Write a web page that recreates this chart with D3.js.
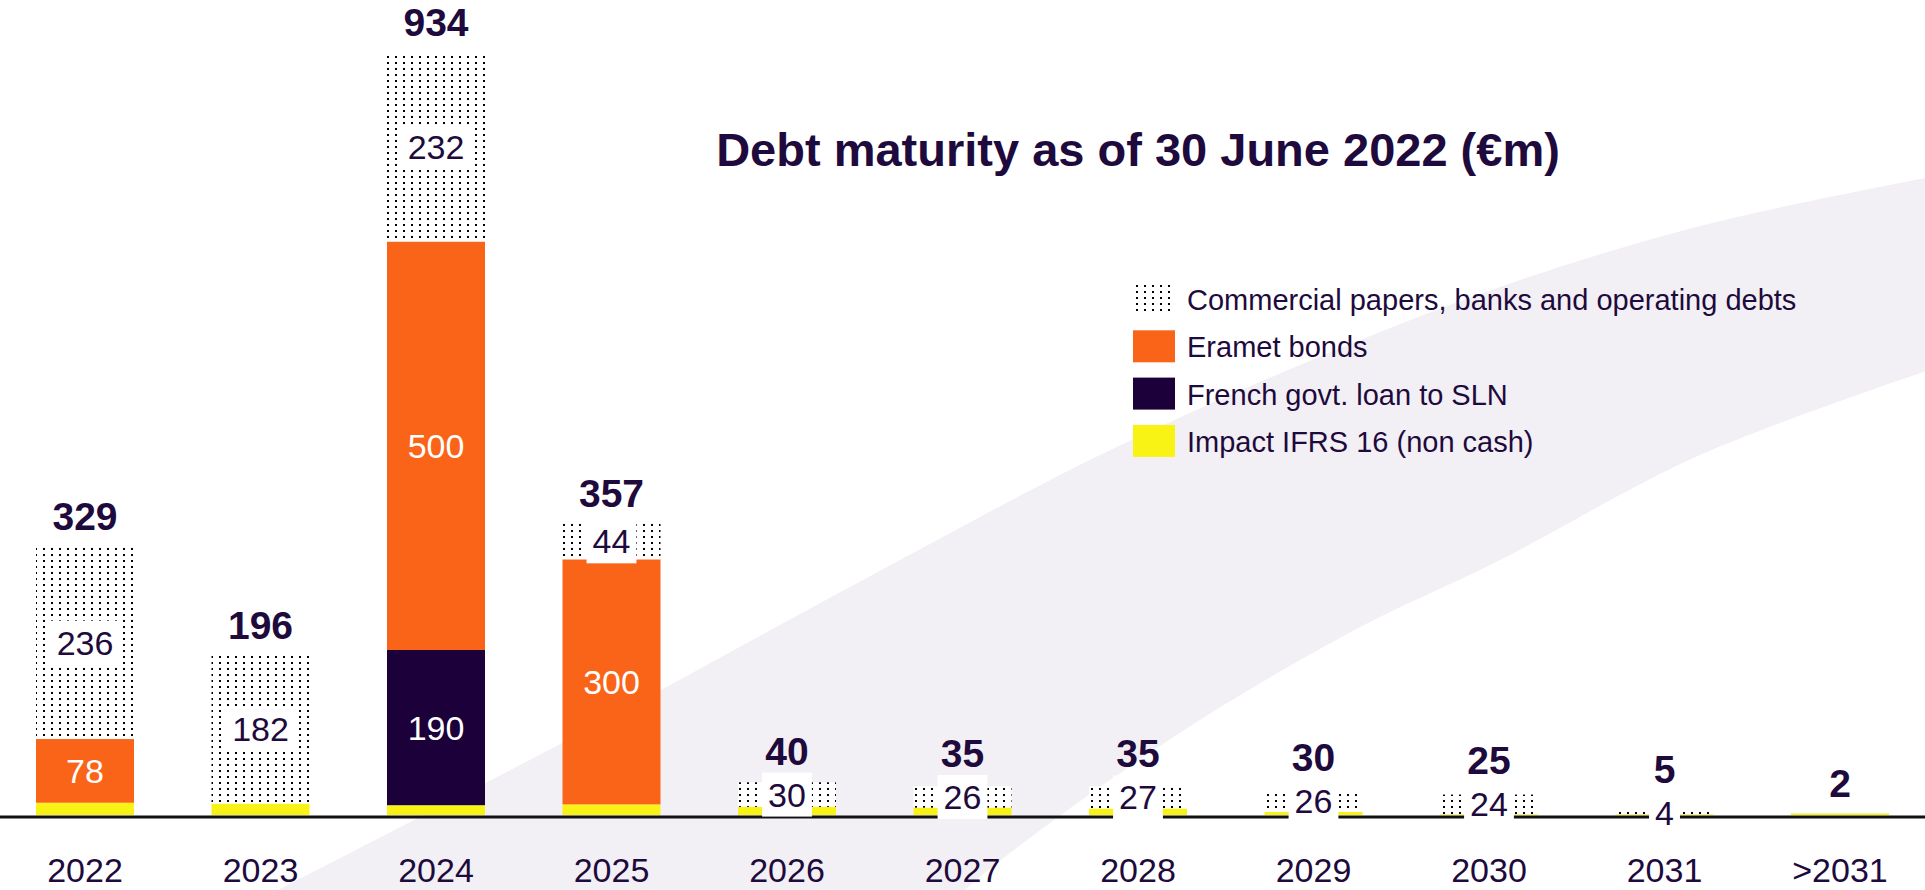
<!DOCTYPE html>
<html>
<head>
<meta charset="utf-8">
<script src="https://cdn.jsdelivr.net/npm/d3@7"></script>
<style>
  html, body { margin: 0; padding: 0; background: #ffffff; }
  svg { display: block; font-family: "Liberation Sans", Arial, sans-serif; }
</style>
</head>
<body>
<svg id="chart" width="1925" height="890"></svg>
<script>
// values (EUR m)
var categories = ["2022", "2023", "2024", "2025", "2026", "2027", "2028", "2029", "2030", "2031", ">2031"]
var ifrs16     = [15, 14, 12, 13, 10, 9, 8, 4, 1, 1, 2]
var frenchLoan = [0, 0, 190, 0, 0, 0, 0, 0, 0, 0, 0]
var bonds      = [78, 0, 500, 300, 0, 0, 0, 0, 0, 0, 0]
var commercial = [236, 182, 232, 44, 30, 26, 27, 26, 24, 4, 0]
var totals     = [329, 196, 934, 357, 40, 35, 35, 30, 25, 5, 2]

var seriesKeys = ["ifrs16", "frenchLoan", "bonds", "commercial"]
var legendItems = [
    {key: "commercial", label: "Commercial papers, banks and operating debts"},
    {key: "bonds", label: "Eramet bonds"},
    {key: "frenchLoan", label: "French govt. loan to SLN"},
    {key: "ifrs16", label: "Impact IFRS 16 (non cash)"}
]
var title = "Debt maturity as of 30 June 2022 (\u20acm)"

var colors = {
    ifrs16: "#f9f215",
    frenchLoan: "#1c0039",
    bonds: "#fa6418",
    commercial: "url(#dots)"
}
var ink = "#1e0a3c"

var rows = categories.map(function(c, i) {
    return {cat: c, ifrs16: ifrs16[i], frenchLoan: frenchLoan[i], bonds: bonds[i], commercial: commercial[i], total: totals[i]}
})

var svg = d3.select("#chart")

// dotted fill used for commercial papers
var defs = svg.append("defs")
var pat = defs.append("pattern")
    .attr("id", "dots")
    .attr("patternUnits", "userSpaceOnUse")
    .attr("width", 8)
    .attr("height", 6)
pat.append("rect").attr("width", 8).attr("height", 6).attr("fill", "#ffffff")
pat.append("rect").attr("x", 3).attr("y", 2).attr("width", 2).attr("height", 2).attr("fill", "#000000")

// light swoosh in the background
var upper = [[200, 930], [562, 743], [900, 560], [1100, 455], [1300, 365], [1500, 287], [1700, 226], [1935, 176]]
var lower = [[1935, 368], [1700, 455], [1500, 560], [1351, 632], [1169, 740], [965, 890], [930, 930]]
var curve = d3.line().curve(d3.curveCatmullRom)
svg.append("path")
    .attr("d", curve(upper) + "L" + curve(lower).slice(1) + "Z")
    .attr("fill", "#f2f0f4")

var x = d3.scaleBand()
    .domain(categories)
    .range([85 - 175.5 / 2, 85 + 175.5 * 10.5])
    .paddingInner(0.4416)
    .paddingOuter(0.2208)

var y = d3.scaleLinear()
    .domain([0, 934])
    .range([815, 52])

var stacked = d3.stack().keys(seriesKeys)(rows)

var layers = svg.append("g")
    .selectAll("g")
    .data(stacked)
    .enter().append("g")
    .attr("fill", function(d) { return colors[d.key] })

layers.selectAll("rect")
    .data(function(d) { return d })
    .enter().append("rect")
    .attr("x", function(d) { return x(d.data.cat) })
    .attr("width", x.bandwidth())
    .attr("y", function(d) { return y(d[1]) })
    .attr("height", function(d) { return y(d[0]) - y(d[1]) })

// baseline and year labels
var axis = svg.append("g")
    .attr("class", "x-axis")
    .attr("transform", "translate(0,816.5)")
    .call(d3.axisBottom(x).tickSize(0).tickSizeOuter(0).tickPadding(41))
axis.select(".domain").attr("stroke", "#111111").attr("stroke-width", 3)
axis.selectAll("text")
    .attr("fill", ink)
    .style("font-size", "34px")
    .style("font-family", "'Liberation Sans', Arial, sans-serif")

// inside labels
var labelFont = 34
var boxTop = {}
var inner = svg.append("g")
stacked.forEach(function(layer) {
    if (layer.key === "ifrs16") return
    layer.forEach(function(d) {
        var v = d[1] - d[0]
        if (v <= 0) return
        var cx = x(d.data.cat) + x.bandwidth() / 2
        var cy = (y(d[0]) + y(d[1])) / 2
        var g = inner.append("g")
        var t = g.append("text")
            .attr("x", cx)
            .attr("y", cy + 12)
            .attr("text-anchor", "middle")
            .style("font-size", labelFont + "px")
            .text(v)
        if (layer.key === "commercial") {
            t.attr("fill", ink)
            var w = t.node().getComputedTextLength() + 12
            g.insert("rect", "text")
                .attr("x", cx - w / 2)
                .attr("y", cy - 22)
                .attr("width", w)
                .attr("height", 44)
                .attr("fill", "#ffffff")
            boxTop[d.data.cat] = cy - 22
        } else {
            t.attr("fill", "#ffffff")
        }
    })
})

// totals on top
svg.append("g")
    .selectAll("text")
    .data(rows)
    .enter().append("text")
    .attr("x", function(d) { return x(d.cat) + x.bandwidth() / 2 })
    .attr("y", function(d) {
        var yy = y(d.total) - 16
        if (boxTop[d.cat] !== undefined) yy = Math.min(yy, boxTop[d.cat] - 8)
        return yy
    })
    .attr("text-anchor", "middle")
    .attr("fill", ink)
    .style("font-size", "39px")
    .style("font-weight", "bold")
    .text(function(d) { return d.total })

// legend
var legend = svg.append("g").attr("transform", "translate(1133,283)")
var item = legend.selectAll("g")
    .data(legendItems)
    .enter().append("g")
    .attr("transform", function(d, i) { return "translate(0," + (i * 47.3) + ")" })
item.append("rect")
    .attr("width", 42)
    .attr("height", 32)
    .attr("fill", function(d) { return colors[d.key] })
item.append("text")
    .attr("x", 54)
    .attr("y", 27)
    .attr("fill", ink)
    .style("font-size", "29px")
    .text(function(d) { return d.label })

svg.append("text")
    .attr("x", 1138)
    .attr("y", 166)
    .attr("text-anchor", "middle")
    .attr("fill", ink)
    .style("font-size", "47px")
    .style("font-weight", "bold")
    .text(title)
</script>
</body>
</html>
